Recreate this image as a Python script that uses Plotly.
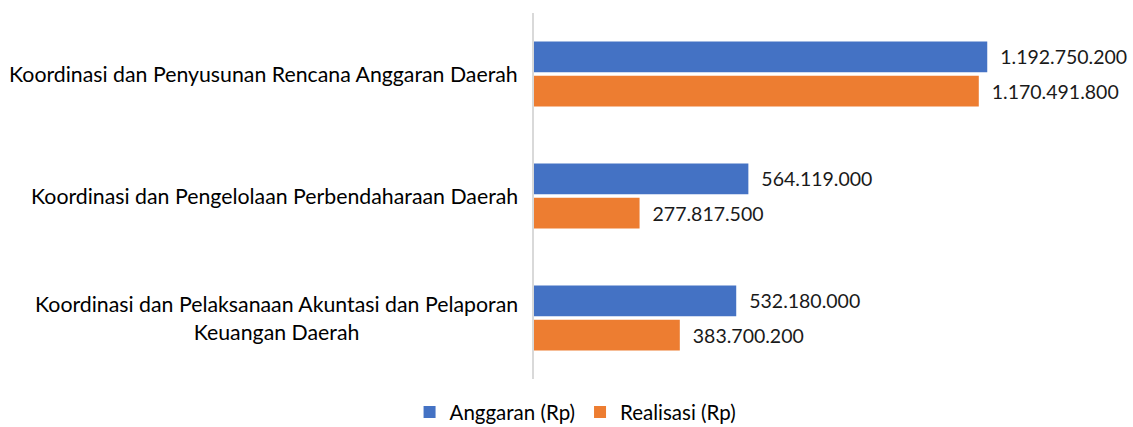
import plotly.graph_objects as go

categories = [
    "Koordinasi dan Penyusunan Rencana Anggaran Daerah",
    "Koordinasi dan Pengelolaan Perbendaharaan Daerah",
    "Koordinasi dan Pelaksanaan Akuntasi dan Pelaporan<br>Keuangan Daerah",
]
anggaran = [1192750200, 564119000, 532180000]
realisasi = [1170491800, 277817500, 383700200]
series_names = ["Anggaran (Rp)", "Realisasi (Rp)"]
colors = ["#4472C4", "#ED7D31"]

def fmt(v):
    return "\u00a0\u00a0" + f"{v:,}".replace(",", ".")

cat_ids = ["c0", "c1", "c2"]
FONT = "Lato"

fig = go.Figure()
for name, vals, col in zip(series_names, [anggaran, realisasi], colors):
    fig.add_trace(go.Bar(
        y=cat_ids, x=vals, name=name, orientation="h",
        marker=dict(color=col, line=dict(width=0)),
        text=[fmt(v) for v in vals], textposition="outside",
        textfont=dict(size=19.5, color="#1a1a1a", family=FONT),
        cliponaxis=False,
    ))

for cid, lab in zip(cat_ids, categories):
    fig.add_annotation(x=0, xref="paper", y=cid, yref="y", text=lab,
                       xanchor="right", yanchor="middle", align="center",
                       xshift=-14, showarrow=False,
                       font=dict(size=21.3, color="#000000", family=FONT))

fig.update_layout(
    width=1133, height=427,
    margin=dict(l=534, r=67, t=13, b=48),
    plot_bgcolor="white", paper_bgcolor="white",
    barmode="group", bargap=0.44, bargroupgap=0.1,
    font=dict(family=FONT, size=19, color="#000000"),
    xaxis=dict(range=[0, 1.4e9], visible=False, showgrid=False),
    yaxis=dict(autorange="reversed", showticklabels=False, showgrid=False,
               showline=True, linecolor="#D9D9D9", linewidth=2, ticks=""),
    legend=dict(orientation="h", xref="container", x=0.508, xanchor="center",
                yref="container", y=0.035, yanchor="middle",
                font=dict(size=20.5, color="#000000", family=FONT),
                itemwidth=30, tracegroupgap=0),
    showlegend=True,
)
fig.write_html("out.html")
